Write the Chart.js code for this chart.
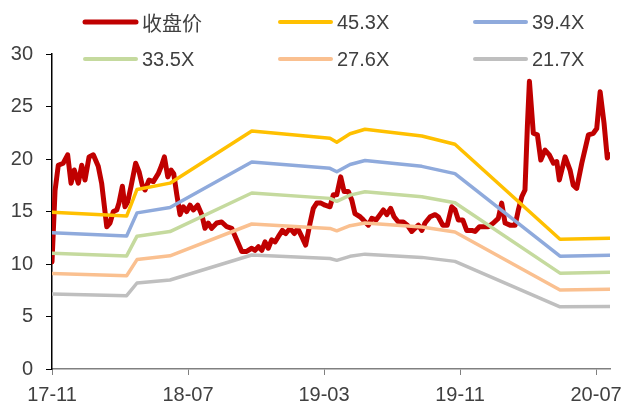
<!DOCTYPE html>
<html><head><meta charset="utf-8">
<script src="https://cdn.jsdelivr.net/npm/chart.js@4"></script>
<style>html,body{margin:0;padding:0;background:#fff;}#wrap{width:625px;height:410px;}</style>
</head><body><div id="wrap"><canvas id="c" width="625" height="410"></canvas></div>
<script>
// x positions are months counted from 2017-11
const xTickPositions = [0, 8, 16, 24, 32];
const xTickLabels = ['17-11', '18-07', '19-03', '19-11', '20-07'];
const yTickValues = [0, 5, 10, 15, 20, 25, 30];
const seriesNames = ['收盘价', '45.3X', '39.4X', '33.5X', '27.6X', '21.7X'];

const priceMonths = [0, 0.18, 0.37, 0.66, 0.92, 1.12, 1.31, 1.55, 1.75, 1.94,
  2.18, 2.43, 2.72, 2.92, 3.08, 3.22, 3.41, 3.61, 3.81, 3.94,
  4.14, 4.29, 4.45, 4.65, 4.92, 5.12, 5.31, 5.47, 5.71, 5.96,
  6.25, 6.45, 6.61, 6.81, 7.0, 7.16, 7.34, 7.53, 7.72, 7.92,
  8.12, 8.31, 8.57, 8.81, 9.0, 9.19, 9.39, 9.69, 9.98, 10.28,
  10.57, 10.86, 11.16, 11.45, 11.75, 11.94, 12.14, 12.34, 12.53, 12.72,
  12.92, 13.12, 13.31, 13.55, 13.75, 14.0, 14.25, 14.45, 14.69, 14.92,
  15.18, 15.37, 15.57, 15.82, 16.06, 16.35, 16.55, 16.75, 16.98, 17.18,
  17.43, 17.63, 17.82, 18.12, 18.31, 18.61, 18.81, 19.06, 19.29, 19.49,
  19.69, 19.92, 20.12, 20.37, 20.66, 20.9, 21.16, 21.35, 21.55, 21.75,
  21.94, 22.24, 22.53, 22.72, 22.98, 23.25, 23.51, 23.71, 23.9, 24.16,
  24.39, 24.69, 24.88, 25.14, 25.37, 25.66, 25.96, 26.25, 26.45, 26.65,
  26.94, 27.24, 27.43, 27.63, 27.82, 27.96, 28.08, 28.31, 28.55, 28.75,
  29.0, 29.25, 29.49, 29.69, 29.84, 30.18, 30.47, 30.66, 30.86, 31.16,
  31.55, 31.84, 32.04, 32.24, 32.47, 32.66, 32.8];
const priceValues = [10.2, 17.0, 19.4, 19.6, 20.4, 17.7, 18.95, 17.7, 19.4, 18.0,
  20.2, 20.4, 19.3, 17.7, 15.5, 13.55, 13.9, 15.0, 15.15, 15.8,
  17.4, 15.45, 15.9, 17.4, 19.6, 18.8, 17.5, 17.05, 18.0, 17.85,
  18.6, 19.4, 20.2, 18.3, 18.95, 18.6, 16.6, 14.7, 15.45, 15.0,
  15.6, 15.15, 15.6, 14.7, 13.4, 13.9, 13.4, 13.9, 14.0, 13.55,
  13.4, 12.3, 11.2, 11.2, 11.5, 11.3, 11.65, 11.3, 12.1, 11.5,
  12.3, 12.1, 12.6, 13.2, 12.9, 13.4, 12.9, 13.4, 12.6, 11.8,
  13.9, 15.3, 15.8, 15.8, 15.6, 15.45, 16.6, 16.6, 18.3, 16.9,
  16.9, 16.1, 14.8, 14.5, 14.2, 13.7, 14.35, 14.2, 14.7, 15.15,
  14.7, 15.3, 14.5, 14.0, 14.0, 13.7, 13.1, 13.4, 13.7, 13.2,
  13.9, 14.5, 14.7, 14.5, 13.7, 13.7, 15.45, 15.15, 14.2, 14.2,
  13.2, 13.2, 13.1, 13.55, 13.55, 13.55, 13.9, 14.35, 15.8, 13.9,
  13.7, 13.7, 15.15, 16.4, 17.05, 23.1, 27.4, 22.45, 22.3, 19.9,
  20.85, 20.4, 19.6, 19.75, 18.0, 20.2, 18.95, 17.5, 17.2, 19.6,
  22.3, 22.45, 22.9, 26.4, 23.4, 20.1, 20.4];

const bandMonths = [0, 4.39, 5.0, 6.94, 11.75, 16.35, 16.75, 17.53, 18.41, 21.75, 23.7, 29.88, 32.8];
const band453 = [14.92, 14.57, 17.1, 17.7, 22.67, 21.97, 21.6, 22.4, 22.83, 22.19, 21.4, 12.35, 12.45];
const band394 = [12.98, 12.67, 14.87, 15.39, 19.72, 19.11, 18.79, 19.48, 19.86, 19.30, 18.61, 10.74, 10.83];
const band335 = [11.03, 10.77, 12.65, 13.09, 16.76, 16.25, 15.97, 16.56, 16.88, 16.41, 15.83, 9.13, 9.21];
const band276 = [9.09, 8.88, 10.42, 10.78, 13.81, 13.39, 13.16, 13.65, 13.91, 13.52, 13.04, 7.52, 7.59];
const band217 = [7.15, 6.98, 8.19, 8.48, 10.86, 10.52, 10.35, 10.73, 10.94, 10.63, 10.25, 5.92, 5.96];

const seriesColors = ['#C00000', '#FFC000', '#8FAADC', '#C5DA9E', '#FAC090', '#BFBFBF'];

function pts(xs, ys) { return xs.map((x, i) => ({ x: x, y: ys[i] })); }

const bands = [band453, band394, band335, band276, band217];
const datasets = [{
  label: seriesNames[0], data: pts(priceMonths, priceValues),
  borderColor: seriesColors[0], borderWidth: 5, order: 10
}].concat(bands.map((b, i) => ({
  label: seriesNames[i + 1], data: pts(bandMonths, b),
  borderColor: seriesColors[i + 1], borderWidth: 3.5, order: i
})));
datasets.forEach(d => { d.pointRadius = 0; d.tension = 0; d.fill = false; d.borderJoinStyle = 'round'; d.borderCapStyle = 'round'; });

const TXT = '#404040';
const numFont = { family: "'Liberation Sans', Arial, sans-serif", size: 20 };

const legendPlugin = {
  id: 'customLegend',
  afterDraw(chart) {
    const ctx = chart.ctx;
    const cols = [83, 278, 473];
    const rows = [22, 59];
    chart.data.datasets.forEach((ds, i) => {
      const x = cols[i % 3], y = rows[Math.floor(i / 3)];
      ctx.save();
      ctx.strokeStyle = ds.borderColor;
      ctx.lineWidth = i === 0 ? 5 : 4;
      ctx.lineCap = 'round';
      ctx.beginPath(); ctx.moveTo(x + 2, y); ctx.lineTo(x + 53, y); ctx.stroke();
      ctx.fillStyle = TXT;
      ctx.font = i === 0 ? "20px 'Noto Sans CJK SC', sans-serif" : "20px 'Liberation Sans', Arial, sans-serif";
      ctx.textBaseline = 'middle';
      ctx.fillText(ds.label, x + 59, y + 1);
      ctx.restore();
    });
  }
};

new Chart(document.getElementById('c'), {
  type: 'line',
  data: { datasets: datasets },
  plugins: [legendPlugin],
  options: {
    responsive: false, animation: false, devicePixelRatio: 1,
    layout: { padding: { top: 54, right: 15, left: 0, bottom: 0 } },
    plugins: { legend: { display: false }, tooltip: { enabled: false } },
    scales: {
      x: {
        type: 'linear', min: 0, max: 32.82,
        afterBuildTicks(s) { s.ticks = xTickPositions.map(v => ({ value: v })); },
        afterFit(s) { s.height = 41; s.paddingLeft = 0; s.paddingRight = 0; },
        ticks: { autoSkip: false, maxRotation: 0, color: TXT, font: numFont, padding: 8,
          callback: (v, i) => xTickLabels[i] },
        grid: { drawOnChartArea: false, tickLength: 6, color: '#808080', tickColor: '#808080' },
        border: { color: '#808080', width: 1.5 }
      },
      y: {
        min: 0, max: 30,
        afterBuildTicks(s) { s.ticks = yTickValues.map(v => ({ value: v })); },
        afterFit(s) { s.width = 52; s.paddingTop = 0; s.paddingBottom = 0; },
        ticks: { color: TXT, font: numFont, padding: 13 },
        grid: { drawOnChartArea: false, tickLength: 6, color: '#000', tickColor: '#000' },
        border: { color: '#000', width: 1.5 }
      }
    }
  }
});
</script></body></html>
